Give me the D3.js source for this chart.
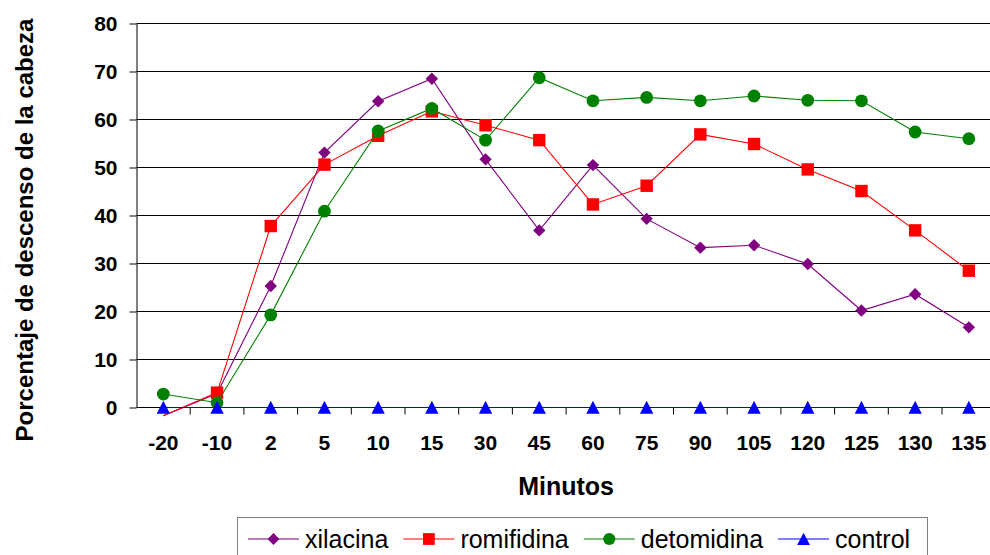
<!DOCTYPE html>
<html>
<head>
<meta charset="utf-8">
<script src="https://cdn.jsdelivr.net/npm/d3@7"></script>
<style>
  html, body { margin: 0; padding: 0; background: #fff; }
  svg { display: block; font-family: "Liberation Sans", Arial, sans-serif; }
</style>
</head>
<body>
<svg id="chart" width="990" height="555"></svg>
<script>
// Minutes after administration (category axis)
const categories = ["-20", "-10", "2", "5", "10", "15", "30", "45", "60", "75", "90", "105", "120", "125", "130", "135"];

// Head-drop percentage per treatment
const xilacina   = [-1.7, 2.9, 25.3, 53.1, 63.8, 68.5, 51.7, 36.9, 50.5, 39.3, 33.3, 33.8, 29.9, 20.2, 23.6, 16.7];
const romifidina = [-1.7, 3.1, 37.8, 50.6, 56.6, 61.7, 58.8, 55.7, 42.3, 46.2, 56.9, 54.9, 49.6, 45.1, 36.9, 28.5];
const detomidina = [2.8, 1.0, 19.3, 40.9, 57.6, 62.3, 55.7, 68.7, 63.9, 64.6, 63.9, 64.9, 64.0, 63.9, 57.4, 56.0];
const control    = [0, 0, 0, 0, 0, 0, 0, 0, 0, 0, 0, 0, 0, 0, 0, 0];

const yTicks = [0, 10, 20, 30, 40, 50, 60, 70, 80];

const seriesNames = ["xilacina", "romifidina", "detomidina", "control"];
const seriesValues = [xilacina, romifidina, detomidina, control];
const seriesColors = ["#800080", "#ff0000", "#008000", "#0000ff"];
const seriesShapes = ["diamond", "square", "circle", "triangle"];

const svg = d3.select("#chart");

const plot = { left: 136.5, top: 23.5, bottom: 407.5, band: 53.7 };
plot.right = plot.left + plot.band * categories.length;

const x = d3.scaleBand().domain(categories).range([plot.left, plot.right]).padding(0);
const y = d3.scaleLinear().domain([0, 80]).range([plot.bottom, plot.top]);
const cx = c => x(c) + x.bandwidth() / 2;

// marker shapes, all centred on their bounding box
const shapes = {
  diamond: r => `M0,${-r}L${r},0L0,${r}L${-r},0Z`,
  square: r => `M${-r},${-r}H${r}V${r}H${-r}Z`,
  circle: r => `M${r},0A${r},${r} 0 1,1 ${-r},0A${r},${r} 0 1,1 ${r},0Z`,
  triangle: r => `M0,${-r}L${r},${r * 0.95}L${-r},${r * 0.95}Z`
};
const shapeRadius = { diamond: 6.2, square: 6.2, circle: 6.4, triangle: 6.7 };

// horizontal gridlines
svg.append("g")
  .selectAll("line")
  .data(yTicks.filter(t => t > 0))
  .join("line")
  .attr("x1", plot.left).attr("x2", plot.right)
  .attr("y1", d => y(d)).attr("y2", d => y(d))
  .attr("stroke", "#000").attr("stroke-width", 1);

// y axis
const yAxis = d3.axisLeft(y).tickValues(yTicks).tickSize(7).tickPadding(12).tickSizeOuter(0);
const gy = svg.append("g").attr("transform", `translate(${plot.left},0)`).call(yAxis);
gy.select(".domain").attr("stroke", "#000");
gy.selectAll(".tick line").attr("stroke", "#000");
gy.selectAll(".tick text")
  .attr("font-size", 21).attr("font-weight", "bold").attr("fill", "#000")
  .attr("font-family", "'Liberation Sans', Arial, sans-serif");

// x axis with ticks at category boundaries
const gx = svg.append("g");
gx.append("line")
  .attr("x1", plot.left).attr("x2", plot.right)
  .attr("y1", plot.bottom).attr("y2", plot.bottom)
  .attr("stroke", "#000");
gx.selectAll("line.tick")
  .data(categories.slice(1))
  .join("line").attr("class", "tick")
  .attr("x1", d => x(d)).attr("x2", d => x(d))
  .attr("y1", plot.bottom).attr("y2", plot.bottom + 7)
  .attr("stroke", "#000");
gx.selectAll("text")
  .data(categories)
  .join("text")
  .attr("x", d => cx(d)).attr("y", 450)
  .attr("text-anchor", "middle")
  .attr("font-size", 21).attr("font-weight", "bold").attr("fill", "#000")
  .text(d => d);

// axis titles
svg.append("text")
  .attr("x", (plot.left + plot.right) / 2).attr("y", 495)
  .attr("text-anchor", "middle")
  .attr("font-size", 25).attr("font-weight", "bold")
  .text("Minutos");

svg.append("text")
  .attr("transform", "translate(33,230) rotate(-90)")
  .attr("text-anchor", "middle")
  .attr("font-size", 24).attr("font-weight", "bold")
  .text("Porcentaje de descenso de la cabeza");

// series: line first, then markers, in series order
const line = d3.line().x((d, i) => cx(categories[i])).y(d => y(d));
seriesValues.forEach((vals, s) => {
  const g = svg.append("g");
  g.append("path")
    .attr("d", line(vals))
    .attr("fill", "none")
    .attr("stroke", seriesColors[s])
    .attr("stroke-width", 1.1);
  const shape = seriesShapes[s];
  g.selectAll("path.mark")
    .data(vals.map((v, i) => ({ v, c: categories[i] })).filter(d => d.v >= 0))
    .join("path").attr("class", "mark")
    .attr("transform", d => `translate(${cx(d.c)},${y(d.v)})`)
    .attr("d", shapes[shape](shapeRadius[shape]))
    .attr("fill", seriesColors[s]);
});

// legend
const legend = svg.append("g");
legend.append("rect")
  .attr("x", 237.5).attr("y", 517.5)
  .attr("width", 690).attr("height", 60)
  .attr("fill", "#fff").attr("stroke", "#808080").attr("stroke-width", 1);

let lx = 248;
const ly = 539;
seriesNames.forEach((name, s) => {
  const item = legend.append("g");
  item.append("line")
    .attr("x1", lx).attr("x2", lx + 51)
    .attr("y1", ly).attr("y2", ly)
    .attr("stroke", seriesColors[s]).attr("stroke-width", 2).attr("stroke-opacity", 0.5);
  const shape = seriesShapes[s];
  item.append("path")
    .attr("transform", `translate(${lx + 25.5},${ly})`)
    .attr("d", shapes[shape](shapeRadius[shape] * 0.95))
    .attr("fill", seriesColors[s]);
  const t = item.append("text")
    .attr("x", lx + 57).attr("y", ly + 8.5)
    .attr("font-size", 25)
    .attr("fill", "#000")
    .text(name);
  lx = lx + 57 + t.node().getComputedTextLength() + 15;
});
</script>
</body>
</html>
